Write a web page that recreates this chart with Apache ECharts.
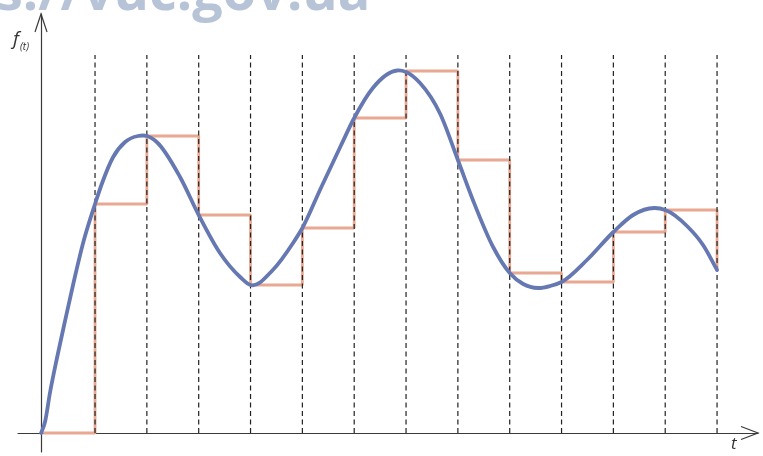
<!DOCTYPE html>
<html>
<head>
<meta charset="utf-8">
<script src="https://cdn.jsdelivr.net/npm/echarts@6/dist/echarts.min.js"></script>
<style>html,body{margin:0;padding:0;background:#fff}#c{width:763px;height:456px}</style>
</head>
<body>
<div id="c"></div>
<script>
// Sample instants (t) and the held sample values f(t_k)
const sampleTimes = [0,1,2,3,4,5,6,7,8,9,10,11,12,13];
const sampleValues = [0,22.9,29.7,21.8,14.8,20.5,31.5,36.2,27.3,16.0,15.1,20.1,22.3,16.3];
// Continuous signal f(t)
const curveT = [-0.04,0.035,0.13,0.27,0.40,0.58,0.77,1.0,1.13,1.35,1.58,1.83,2.0,2.19,2.64,3.0,3.41,3.80,4.0,4.43,4.82,5.0,5.34,5.73,6.0,6.36,6.83,7.0,7.27,7.66,8.0,8.29,8.68,9.0,9.26,9.55,9.78,10.0,10.49,11.0,11.38,11.8,12.0,12.42,12.73,13.0];
const curveF = [0,1.1,4.0,7.6,10.7,14.9,19.0,22.9,24.9,27.6,29.1,29.7,29.7,29.1,25.6,21.8,18.0,15.6,14.8,16.3,19.0,20.5,24.3,28.6,31.5,34.5,36.25,36.1,35.0,31.9,27.3,23.3,18.6,16.0,14.9,14.5,14.7,15.1,17.3,20.1,21.8,22.5,22.3,20.7,18.8,16.3];
const gridTimes = [1,2,3,4,5,6,7,8,9,10,11,12,13];
const dashTop = 37.8;
const xMin = -0.486, xMax = 13.79, yMin = -1.9, yMax = 41.9;
const vAxisAt = -0.042; // where the vertical axis crosses the time axis

// smooth path (cubic Hermite) through pixel points given by the axes
function smoothPath(pts){
  const n = pts.length, h = [], d = [], m = [];
  for (let i=0;i<n-1;i++){ h[i]=pts[i+1][0]-pts[i][0]; d[i]=(pts[i+1][1]-pts[i][1])/h[i]; }
  m[0]=d[0]; m[n-1]=d[n-2];
  for (let i=1;i<n-1;i++){ m[i]=(h[i]*d[i-1]+h[i-1]*d[i])/(h[i-1]+h[i]); }
  let s = 'M'+pts[0][0]+' '+pts[0][1];
  for (let i=0;i<n-1;i++){
    const c1x=pts[i][0]+h[i]/3, c1y=pts[i][1]+m[i]*h[i]/3;
    const c2x=pts[i+1][0]-h[i]/3, c2y=pts[i+1][1]-m[i+1]*h[i]/3;
    s += 'C'+c1x+' '+c1y+' '+c2x+' '+c2y+' '+pts[i+1][0]+' '+pts[i+1][1];
  }
  return s;
}

const chart = echarts.init(document.getElementById('c'), null, {renderer:'canvas'});
const axisColor = '#3a3a3a';
chart.setOption({
  animation:false,
  backgroundColor:'#ffffff',
  grid:{left:18,right:5,top:14,bottom:4},
  xAxis:{type:'value',min:xMin,max:xMax,
    axisLine:{show:true,onZero:true,lineStyle:{color:axisColor,width:1.2}},
    axisTick:{show:false},axisLabel:{show:false},splitLine:{show:false}},
  yAxis:{type:'value',min:yMin,max:yMax,offset:-23,
    axisLine:{show:true,onZero:false,lineStyle:{color:axisColor,width:1.2}},
    axisTick:{show:false},axisLabel:{show:false},splitLine:{show:false}},
  graphic:[
    {type:'text',left:-4,top:-32,z:100,style:{text:'s://vuc.gov.ua',fill:'#b7c3d7',font:'bold 54px "Open Sans"'}},
    {type:'text',left:13,top:30,style:{text:'f',fill:'#333',font:'italic 19px "Open Sans"'}},
    {type:'text',left:20,top:42,style:{text:'(t)',fill:'#333',font:'italic 10px "Open Sans"'}},
    {type:'text',left:731,top:436,style:{text:'t',fill:'#333',font:'italic 17px "Open Sans"'}}
  ],
  series:[
    {type:'line',step:'end',z:2,showSymbol:false,
      data:sampleTimes.map((t,i)=>[t,sampleValues[i]]),
      lineStyle:{color:'#e8a892',width:2.8}},
    {type:'custom',z:3,clip:false,silent:true,
      data:gridTimes.map(t=>[t,0]),
      renderItem:(params,api)=>{
        const a = api.coord([api.value(0),0]);
        const b = api.coord([api.value(0),dashTop]);
        return {type:'line',shape:{x1:a[0],y1:a[1],x2:b[0],y2:b[1]},
          style:{stroke:'#222',lineWidth:1.2,lineDash:[5,3.5]}};
      }},
    {type:'custom',z:4,clip:false,silent:true,
      data:[[curveT[0],curveF[0]]],
      renderItem:(params,api)=>{
        const pts = curveT.map((t,i)=>api.coord([t,curveF[i]]));
        return {type:'path',shape:{pathData:smoothPath(pts)},
          style:{stroke:'#6678b2',lineWidth:3.8,fill:null,lineJoin:'round',lineCap:'round'}};
      }},
    {type:'custom',z:5,clip:false,silent:true,
      data:[[xMax,0],[vAxisAt,yMax]],
      renderItem:(params,api)=>{
        const p = api.coord([api.value(0),api.value(1)]);
        const pts = params.dataIndex===0
          ? [[p[0]-17,p[1]-6.5],[p[0],p[1]],[p[0]-17,p[1]+6.5]]
          : [[p[0]-6,p[1]+18],[p[0],p[1]],[p[0]+6,p[1]+18]];
        return {type:'polyline',shape:{points:pts},style:{stroke:axisColor,lineWidth:1.2,fill:null}};
      }}
  ]
});
</script>
</body>
</html>
